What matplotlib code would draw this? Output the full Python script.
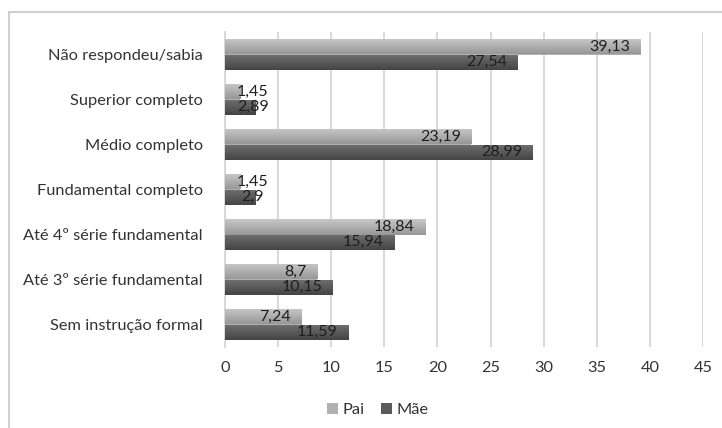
import matplotlib
matplotlib.use("Agg")
import matplotlib.pyplot as plt
import numpy as np
from matplotlib.lines import Line2D
from matplotlib.colors import LinearSegmentedColormap

categories = [
    "Não respondeu/sabia",
    "Superior completo",
    "Médio completo",
    "Fundamental completo",
    "Até 4º série fundamental",
    "Até 3º série fundamental",
    "Sem instrução formal",
]
pai = [39.13, 1.45, 23.19, 1.45, 18.84, 8.7, 7.24]
mae = [27.54, 2.89, 28.99, 2.9, 15.94, 10.15, 11.59]
pai_labels = ["39,13", "1,45", "23,19", "1,45", "18,84", "8,7", "7,24"]
mae_labels = ["27,54", "2,89", "28,99", "2,9", "15,94", "10,15", "11,59"]
xticks = [0, 5, 10, 15, 20, 25, 30, 35, 40, 45]

plt.rcParams["font.family"] = ["Lato", "DejaVu Sans"]

fig = plt.figure(figsize=(7.22, 4.28), dpi=100)
ax = fig.add_axes([225 / 722, 1 - 347 / 428, (703 - 225) / 722, (347 - 32) / 428])

# chart frame (only left and top edges visible in the crop)
fig.add_artist(Line2D([9 / 722, 9 / 722], [0, 1 - 12 / 428], transform=fig.transFigure,
                      color="#d0d0d0", linewidth=1.5))
fig.add_artist(Line2D([9 / 722, 1], [1 - 12 / 428, 1 - 12 / 428], transform=fig.transFigure,
                      color="#d0d0d0", linewidth=1.5))

y = np.arange(len(categories))
h = 0.345
bars_pai = ax.barh(y - h / 2, pai, height=h, color="#b0b0b0", label="Pai", zorder=3)
bars_mae = ax.barh(y + h / 2, mae, height=h, color="#5a5a5a", label="Mãe", zorder=3)

# Excel-like vertical gradient on each bar
grad = np.linspace(0, 1, 64).reshape(-1, 1)
cm_pai = LinearSegmentedColormap.from_list("pai", ["#c8c8c8", "#979797"])
cm_mae = LinearSegmentedColormap.from_list("mae", ["#707070", "#444444"])
for bars, cm in ((bars_pai, cm_pai), (bars_mae, cm_mae)):
    for b in bars:
        x0, y0, w, hh = b.get_x(), b.get_y(), b.get_width(), b.get_height()
        im = ax.imshow(grad, cmap=cm, aspect="auto", extent=(x0, x0 + w, y0 + hh, y0),
                       origin="upper", zorder=3.5, interpolation="bilinear")
        im.set_clip_path(b)

for i in range(len(categories)):
    for val, lab, off in ((pai[i], pai_labels[i], -h / 2), (mae[i], mae_labels[i], h / 2)):
        if val < 5:
            ax.text(2.6, y[i] + off, lab, ha="center", va="center", fontsize=11.5,
                    color="#1e1e1e", zorder=4)
        else:
            ax.text(val - 1.0, y[i] + off, lab, ha="right", va="center", fontsize=11.5,
                    color="#1e1e1e", zorder=4)

ax.set_xlim(0, 45)
ax.set_ylim(len(categories) - 0.5, -0.5)
ax.set_xticks(xticks)
ax.set_yticks(y)
ax.set_yticklabels(categories)
ax.tick_params(axis="both", length=0, labelsize=11.8, colors="#333333")
ax.tick_params(axis="x", pad=10)
ax.tick_params(axis="y", pad=16)
ax.grid(axis="x", color="#d9d9d9", linewidth=1.5, zorder=0)
for s in ("top", "right", "bottom"):
    ax.spines[s].set_visible(False)
ax.spines["left"].set_color("#d9d9d9")
ax.spines["left"].set_linewidth(1.5)

ax.legend(loc="center", bbox_to_anchor=((378 - 225) / 478, -(410 - 347) / 315), ncol=2,
          frameon=False, fontsize=11.8, handlelength=0.65, handleheight=0.65,
          handletextpad=0.3, columnspacing=1.0, labelcolor="#333333")

fig.savefig("out.png", dpi=100)
